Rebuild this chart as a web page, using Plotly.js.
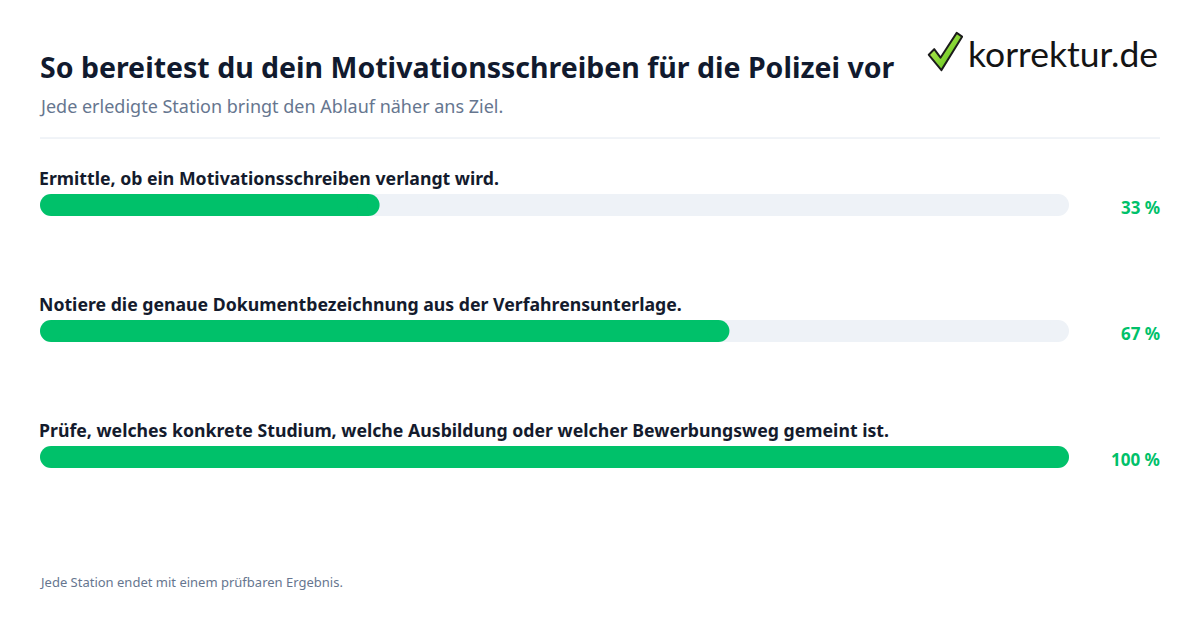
<!DOCTYPE html>
<html><head><meta charset="utf-8">
<script src="https://cdn.plot.ly/plotly-3.0.1.min.js"></script>
<style>html,body{margin:0;padding:0;background:#fff}</style>
</head><body><div id="chart" style="width:1200px;height:630px"></div>
<script>
const steps = [
  "Ermittle, ob ein Motivationsschreiben verlangt wird.",
  "Notiere die genaue Dokumentbezeichnung aus der Verfahrensunterlage.",
  "Prüfe, welches konkrete Studium, welche Ausbildung oder welcher Bewerbungsweg gemeint ist."
];
const progress = [33, 67, 100];
const pctLabels = ["33 %", "67 %", "100 %"];

const W = 1200, H = 630;
const M = {l: 40, r: 131, t: 142, b: 110};
const plotW = W - M.l - M.r, plotH = H - M.t - M.b;
const BAR = 22;                       // bar thickness in px
const cap = (BAR / 2) / plotW * 100;  // half-thickness in data units
const px = x => (x - M.l) / plotW;
const py = y => (H - M.b - y) / plotH;

const FONT = "Noto Sans, Open Sans, sans-serif";
const GREEN = "#00c16a", TRACK = "#eef2f7";

const traces = [];
function pill(i, v, color) {
  traces.push({
    type: "scatter", mode: "lines+markers",
    x: [cap, v - cap], y: [i, i],
    line: {color: color, width: BAR},
    marker: {color: color, size: BAR, line: {width: 0}},
    hoverinfo: "skip", showlegend: false, cliponaxis: false
  });
}
steps.forEach((s, i) => pill(i, 100, TRACK));
steps.forEach((s, i) => pill(i, progress[i], GREEN));

const annotations = [];
steps.forEach((s, i) => {
  annotations.push({x: 0, y: i, xref: "x", yref: "y", xanchor: "left", yanchor: "middle",
    xshift: -3, yshift: 27, text: "<b>" + s + "</b>", showarrow: false,
    font: {family: FONT, size: 17.7, color: "#141b2d"}});
  annotations.push({x: 1, y: i, xref: "paper", yref: "y", xanchor: "right", yanchor: "middle",
    xshift: 93, yshift: -2, text: "<b>" + pctLabels[i] + "</b>", showarrow: false,
    font: {family: FONT, size: 17, color: GREEN}});
});
annotations.push({x: 0, y: py(106), xref: "paper", yref: "paper", xanchor: "left", yanchor: "middle",
  xshift: -3, text: "Jede erledigte Station bringt den Ablauf näher ans Ziel.", showarrow: false,
  font: {family: FONT, size: 18, color: "#66768f"}});
annotations.push({x: 0, y: py(582), xref: "paper", yref: "paper", xanchor: "left", yanchor: "middle",
  xshift: -3, text: "Jede Station endet mit einem prüfbaren Ergebnis.", showarrow: false,
  font: {family: FONT, size: 13, color: "#66768f"}});
annotations.push({x: px(1160), y: py(53), xref: "paper", yref: "paper", xanchor: "right", yanchor: "middle",
  text: "korrektur.de", showarrow: false,
  font: {family: "Lato, Noto Sans, sans-serif", size: 35.5, color: "#141414"}});

const checkSvg = '<svg xmlns="http://www.w3.org/2000/svg" width="40" height="44" viewBox="0 0 40 44">' +
  '<defs><linearGradient id="g" x1="0" y1="0" x2="1" y2="1"><stop offset="0" stop-color="#c8f55a"/>' +
  '<stop offset="1" stop-color="#4cb814"/></linearGradient></defs>' +
  '<path d="M2 25 L8 19 L15 28 L33 2 L39 6 L16 41 Z" fill="url(#g)" stroke="#1b1b1b" stroke-width="2.2" stroke-linejoin="round"/></svg>';

const layout = {
  width: W, height: H,
  margin: M,
  paper_bgcolor: "#fff", plot_bgcolor: "#fff",
  title: {text: "<b>So bereitest du dein Motivationsschreiben für die Polizei vor</b>",
    x: 40 / W, xanchor: "left", xref: "container", y: 1 - 68 / H, yanchor: "middle", yref: "container",
    font: {family: FONT, size: 28.5, color: "#111a2e"}},
  xaxis: {range: [0, 100], visible: false, fixedrange: true},
  yaxis: {range: [steps.length - 0.5, -0.5], visible: false, fixedrange: true},
  annotations: annotations,
  shapes: [{type: "line", xref: "paper", yref: "paper", x0: 0, x1: px(1160), y0: py(138), y1: py(138),
    line: {color: "#e2e8f0", width: 1}}],
  images: [{source: "data:image/svg+xml;base64," + btoa(checkSvg), xref: "paper", yref: "paper",
    x: px(927), y: py(31), sizex: 36 / plotW, sizey: 42 / plotH, xanchor: "left", yanchor: "top",
    sizing: "stretch", layer: "above"}],
  hovermode: false, showlegend: false
};
Plotly.newPlot("chart", traces, layout, {displayModeBar: false, staticPlot: true});
</script></body></html>
